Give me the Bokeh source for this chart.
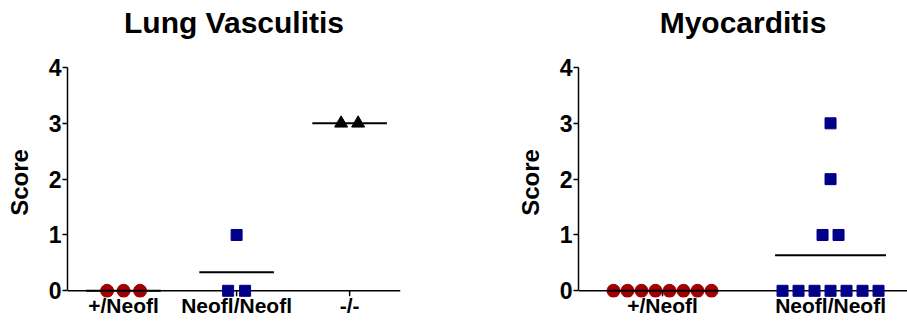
import numpy as np
from bokeh.plotting import figure
from bokeh.layouts import row
from bokeh.models import FixedTicker, Span, Title
from bokeh.embed import file_html
from bokeh.resources import INLINE

# ---------------- data ----------------
lung_title = "Lung Vasculitis"
lung_groups = ["+/Neofl", "Neofl/Neofl", "-/-"]
lung_wt = [0, 0, 0]
lung_neo = [0, 0, 1]
lung_ko = [3, 3]

myo_title = "Myocarditis"
myo_groups = ["+/Neofl", "Neofl/Neofl"]
myo_wt = [0, 0, 0, 0, 0, 0, 0, 0]
myo_neo = [0, 0, 0, 0, 0, 0, 0, 1, 1, 2, 3]

y_ticks = [0, 1, 2, 3, 4]
y_label = "Score"

RED = "#A30000"
BLUE = "#000088"
BLACK = "#000000"
FONT = "Liberation Sans"

Y0, Y1 = -0.12, 4.0
PX_PER_Y = 55.75
H = 323


def offsets(values, spacing_units):
    vals = np.asarray(values, dtype=float)
    out = np.zeros(len(vals))
    for v in np.unique(vals):
        idx = np.where(vals == v)[0]
        n = len(idx)
        out[idx] = (np.arange(n) - (n - 1) / 2.0) * spacing_units
    return out


def make_panel(title, groups, series, width, bl, br, xr, title_offset=0):
    p = figure(width=width, height=H, x_range=xr, y_range=(Y0, Y1),
               output_backend="svg", toolbar_location=None,
               min_border_left=bl, min_border_right=br, min_border_top=67,
               min_border_bottom=26)
    frame_w = width - bl - br
    px_per_x = frame_w / (xr[1] - xr[0])

    p.title.text = title
    p.title.align = "center"
    p.title.text_font = FONT
    p.title.text_font_size = "30px"
    p.title.text_font_style = "bold"
    p.title.text_color = BLACK
    p.title.standoff = 0
    p.title.offset = title_offset
    # empty spacer between title and plot area
    p.add_layout(Title(text=" ", text_font_size="1px", standoff=26), "above")

    p.grid.visible = False
    p.outline_line_color = None
    p.background_fill_color = None
    p.border_fill_color = None

    # y axis
    ya = p.yaxis[0]
    ya.ticker = FixedTicker(ticks=y_ticks)
    ya.bounds = (0, 4)
    ya.axis_line_width = 1.5
    ya.major_tick_line_width = 1.5
    ya.major_tick_out = 5
    ya.major_tick_in = 0
    ya.minor_tick_line_color = None
    ya.major_label_standoff = 1
    ya.major_label_text_font = FONT
    ya.major_label_text_font_style = "bold"
    ya.major_label_text_font_size = "23px"
    ya.major_label_text_color = BLACK
    ya.axis_label = y_label
    ya.axis_label_text_font = FONT
    ya.axis_label_text_font_style = "bold"
    ya.axis_label_text_font_size = "24px"
    ya.axis_label_text_color = BLACK
    ya.axis_label_standoff = 13

    # x axis (labels only)
    xa = p.xaxis[0]
    xa.ticker = FixedTicker(ticks=list(range(len(groups))))
    xa.major_label_overrides = {i: g for i, g in enumerate(groups)}
    xa.axis_line_color = None
    xa.major_tick_line_color = None
    xa.minor_tick_line_color = None
    xa.major_label_standoff = -10
    xa.major_label_text_font = FONT
    xa.major_label_text_font_style = "bold"
    xa.major_label_text_font_size = "21px"
    xa.major_label_text_color = BLACK

    # baseline at y = 0 (beneath the markers) and category ticks
    p.add_layout(Span(location=0, dimension="width", line_color=BLACK,
                      line_width=1.5, level="underlay"))
    cats = np.arange(len(groups))
    p.segment(x0=cats, y0=np.zeros(len(cats)), x1=cats,
              y1=np.full(len(cats), -5.5 / PX_PER_Y), line_color=BLACK, line_width=1.5)

    for gi, (vals, marker, color, size, spacing_px) in enumerate(series):
        off = offsets(vals, spacing_px / px_per_x)
        xs = gi + off
        mean = float(np.mean(vals))
        p.scatter(x=xs, y=vals, marker=marker, size=size,
                  fill_color=color, line_color=color)
        p.segment(x0=[gi - 0.33], y0=[mean], x1=[gi + 0.33], y1=[mean],
                  line_color=BLACK, line_width=2)
    return p


left = make_panel(
    lung_title, lung_groups,
    [(lung_wt, "circle", RED, 13, 16.5),
     (lung_neo, "square", BLUE, 11, 17),
     (lung_ko, "triangle", BLACK, 13, 17)],
    width=450, bl=67, br=50, xr=(-0.496, 2.45), title_offset=6)

right = make_panel(
    myo_title, myo_groups,
    [(myo_wt, "circle", RED, 13, 14),
     (myo_neo, "square", BLUE, 11, 16)],
    width=457, bl=128, br=0, xr=(-0.5, 1.458), title_offset=12)

layout = row(left, right)
open("out.html", "w").write(file_html(layout, INLINE))
